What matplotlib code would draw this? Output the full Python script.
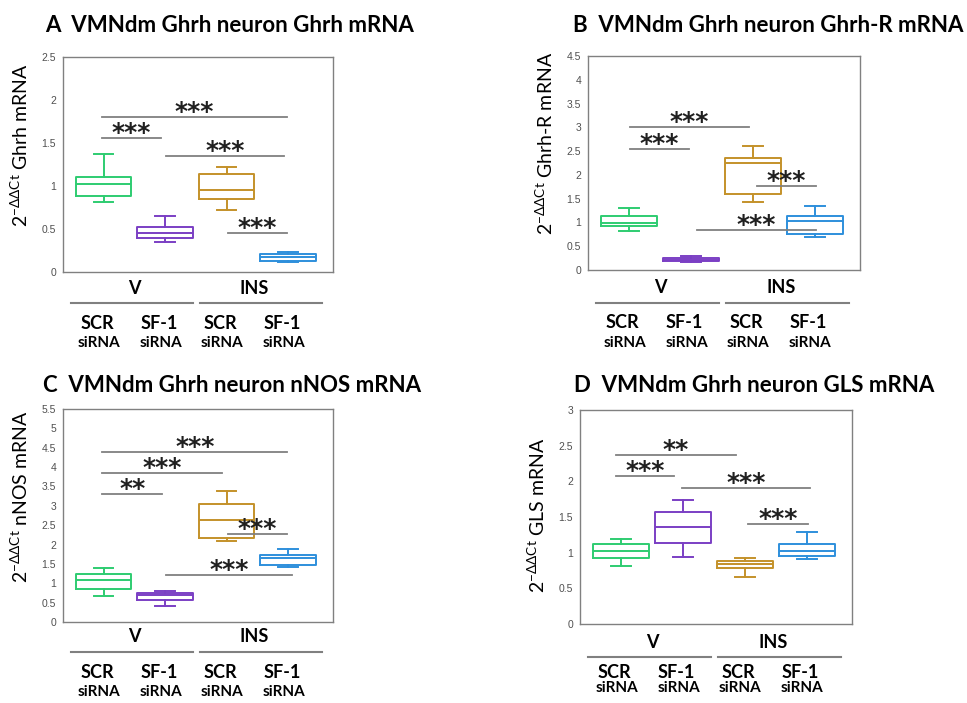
import matplotlib
matplotlib.use('Agg')
import matplotlib.pyplot as plt
from matplotlib import rcParams

rcParams['font.family'] = ['Lato', 'DejaVu Sans']
rcParams['mathtext.fontset'] = 'custom'
rcParams['mathtext.rm'] = 'Lato'
rcParams['mathtext.fallback'] = 'stixsans'
rcParams['mathtext.default'] = 'regular'

# ---- data ----
groups = ['V', 'INS']
treatments = ['SCR', 'SF-1', 'SCR', 'SF-1']
colors = ['#2ecc71', '#7b3fc4', '#c4922a', '#2e8fdc']

titles = ['A  VMNdm Ghrh neuron Ghrh mRNA', 'B  VMNdm Ghrh neuron Ghrh-R mRNA',
          'C  VMNdm Ghrh neuron nNOS mRNA', 'D  VMNdm Ghrh neuron GLS mRNA']
ylabels = ['Ghrh mRNA', 'Ghrh-R mRNA', 'nNOS mRNA', 'GLS mRNA']
ymax = [2.5, 4.5, 5.5, 3.0]

# box stats per panel: whisker low, q1, median, q3, whisker high
ghrh_lo = [0.81, 0.35, 0.72, 0.12]
ghrh_q1 = [0.88, 0.39, 0.845, 0.13]
ghrh_med = [1.02, 0.45, 0.95, 0.175]
ghrh_q3 = [1.105, 0.52, 1.14, 0.21]
ghrh_hi = [1.375, 0.65, 1.22, 0.23]

ghrhr_lo = [0.815, 0.175, 1.43, 0.69]
ghrhr_q1 = [0.92, 0.185, 1.595, 0.765]
ghrhr_med = [0.99, 0.22, 2.24, 1.04]
ghrhr_q3 = [1.13, 0.25, 2.365, 1.13]
ghrhr_hi = [1.31, 0.30, 2.60, 1.355]

nnos_lo = [0.67, 0.41, 2.08, 1.41]
nnos_q1 = [0.85, 0.57, 2.17, 1.46]
nnos_med = [1.085, 0.705, 2.63, 1.64]
nnos_q3 = [1.25, 0.74, 3.04, 1.73]
nnos_hi = [1.40, 0.80, 3.39, 1.88]

gls_lo = [0.815, 0.94, 0.66, 0.915]
gls_q1 = [0.925, 1.14, 0.79, 0.955]
gls_med = [1.025, 1.355, 0.845, 1.02]
gls_q3 = [1.12, 1.57, 0.885, 1.125]
gls_hi = [1.19, 1.745, 0.92, 1.285]

# significance bars: (x start, x end, height, stars)
ghrh_sig = [(0.97, 3.98, 1.80, '***'), (0.97, 1.94, 1.56, '***'),
            (2.02, 3.93, 1.35, '***'), (3.03, 3.98, 0.45, '***')]
ghrhr_sig = [(1.02, 2.94, 3.00, '***'), (1.02, 1.97, 2.55, '***'),
             (3.06, 4.02, 1.76, '***'), (2.10, 4.02, 0.85, '***')]
nnos_sig = [(0.98, 3.99, 4.39, '***'), (0.98, 2.92, 3.85, '***'), (0.98, 1.95, 3.30, '**'),
            (3.02, 3.99, 2.27, '***'), (2.02, 4.06, 1.22, '***')]
gls_sig = [(0.92, 2.85, 2.37, '**'), (0.92, 1.85, 2.07, '***'),
           (1.98, 4.06, 1.91, '***'), (3.05, 4.02, 1.40, '***')]

stats = [(ghrh_lo, ghrh_q1, ghrh_med, ghrh_q3, ghrh_hi),
         (ghrhr_lo, ghrhr_q1, ghrhr_med, ghrhr_q3, ghrhr_hi),
         (nnos_lo, nnos_q1, nnos_med, nnos_q3, nnos_hi),
         (gls_lo, gls_q1, gls_med, gls_q3, gls_hi)]
sigs = [ghrh_sig, ghrhr_sig, nnos_sig, gls_sig]

# ---- layout in pixels (left, top, right, bottom) ----
W, H = 967, 703
boxes_px = [(63, 57, 333, 272), (588, 56, 860, 270), (63, 409, 333, 622), (580, 410, 852, 624)]
title_px = [(45, 25), (573, 25), (43, 385), (574, 385)]
under_px = [(16, 31, 51, 71), (18, 33, 53, 73), (15, 30, 51, 70), (18, 33, 48, 64)]
ylab_y = [0.59, 0.59, 0.59, 0.51]

fig = plt.figure(figsize=(W / 100, H / 100), dpi=100)
positions = [1, 2, 3, 4]

for i in range(4):
    l, t, r, b = boxes_px[i]
    ax = fig.add_axes([l / W, 1 - b / H, (r - l) / W, (b - t) / H])
    lo, q1, med, q3, hi = stats[i]
    bxp_stats = [dict(whislo=lo[k], q1=q1[k], med=med[k], q3=q3[k], whishi=hi[k], fliers=[])
                 for k in range(4)]
    art = ax.bxp(bxp_stats, positions=positions, widths=0.9, capwidths=0.32,
                 showfliers=False, manage_ticks=False)
    for k in range(4):
        c = colors[k]
        art['boxes'][k].set(color=c, linewidth=1.4)
        art['medians'][k].set(color=c, linewidth=1.4)
        for j in (2 * k, 2 * k + 1):
            art['whiskers'][j].set(color=c, linewidth=1.4)
            art['caps'][j].set(color=c, linewidth=1.4)

    # significance bars
    for x1, x2, y, lab in sigs[i]:
        ax.plot([x1, x2], [y, y], color='#808080', linewidth=1.3)
        ax.annotate(lab, xy=((x1 + x2) / 2, y), xytext=(0, -1.5), textcoords='offset points',
                    ha='center', va='baseline', fontsize=18, fontweight='bold',
                    family='DejaVu Sans', color='#202020')

    ax.set_xlim(0.34, 4.73)
    ax.set_ylim(0, ymax[i])
    ax.set_xticks([])
    ax.set_yticks([v * 0.5 for v in range(int(ymax[i] / 0.5) + 1)])
    ax.set_yticklabels(['%g' % (v * 0.5) for v in range(int(ymax[i] / 0.5) + 1)],
                       family='Liberation Sans')
    ax.tick_params(axis='y', length=0, pad=5, labelsize=7.5, labelcolor='#505050')
    for s in ax.spines.values():
        s.set_color('#808080')
        s.set_linewidth(1.0)

    ax.set_ylabel(r'$2^{-\Delta\Delta Ct}$ ' + ylabels[i], fontsize=14, va='center')
    ax.yaxis.set_label_coords(-43 / (r - l), ylab_y[i])

    # group labels under the axes
    ax_h = b - t
    ov, oline, oscr, osi = under_px[i]
    for g, gx in zip(groups, [1.5, 3.45]):
        ax.text(gx, -ov / ax_h, g, transform=ax.get_xaxis_transform(), ha='center', va='center',
                fontsize=13, fontweight='bold')
    for x1, x2 in [(0.47, 2.46), (2.56, 4.55)]:
        ax.plot([x1, x2], [-oline / ax_h] * 2, transform=ax.get_xaxis_transform(),
                color='#808080', linewidth=1.5, clip_on=False)
    for k, tr in enumerate(treatments):
        ax.text(positions[k] - 0.1, -oscr / ax_h, tr, transform=ax.get_xaxis_transform(),
                ha='center', va='center', fontsize=13, fontweight='bold')
        ax.text(positions[k] - 0.07, -osi / ax_h, 'siRNA', transform=ax.get_xaxis_transform(),
                ha='center', va='center', fontsize=11, fontweight='bold')

    tx, ty = title_px[i]
    fig.text(tx / W, 1 - ty / H, titles[i], ha='left', va='center', fontsize=16, fontweight='bold')

plt.savefig('out.png', dpi=100)
